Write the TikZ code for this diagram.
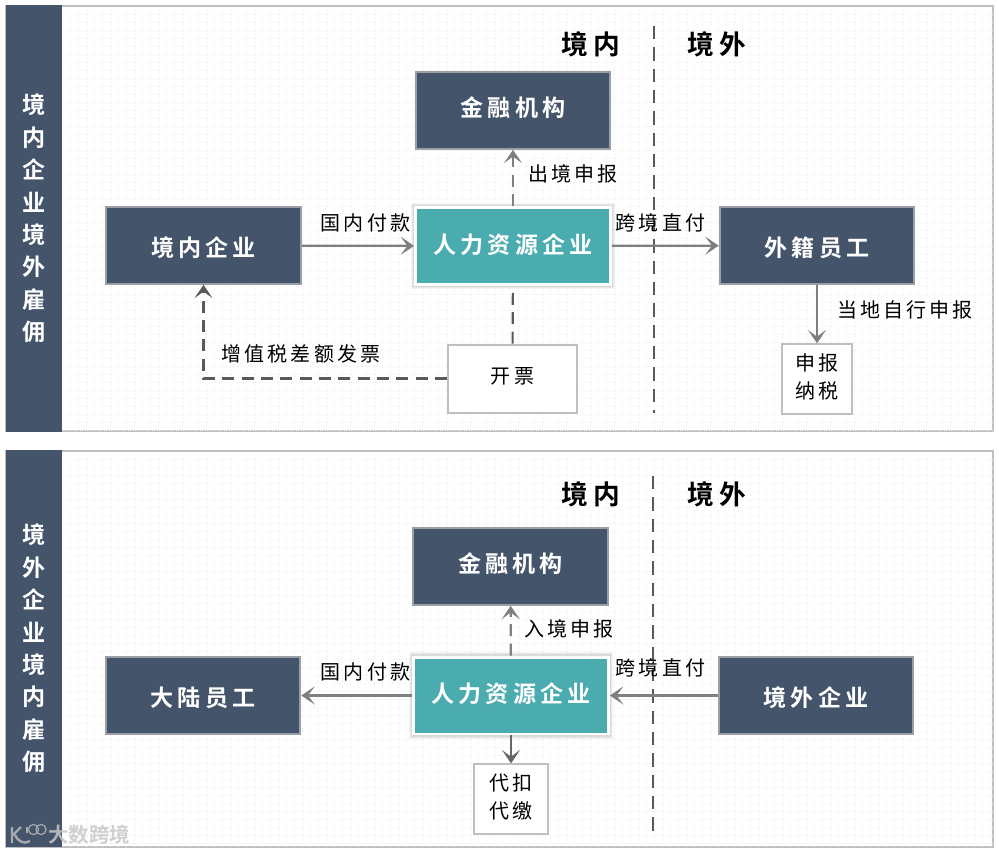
\documentclass[tikz,border=0pt]{standalone}
\usepackage{fontspec}
\usetikzlibrary{arrows.meta}
\setmainfont{Noto Sans CJK SC}[LetterSpace=16]
\newfontfamily\cjkbold{Noto Sans CJK SC Bold}[LetterSpace=18]
\newfontfamily\cjkplain{Noto Sans CJK SC Bold}
\definecolor{navy}{HTML}{44546A}
\definecolor{teal2}{HTML}{4BACB0}
\definecolor{edgegrey}{HTML}{BFBFBF}
\definecolor{linegrey}{HTML}{7F7F7F}
\definecolor{darkgrey}{HTML}{595959}
\tikzset{
  x=0.75pt,y=-0.75pt,
  darkbox/.style={draw=edgegrey!70!navy,line width=1.5pt,fill=navy,text=white,inner sep=0pt,minimum width=146pt,minimum height=57.5pt,font=\cjkbold\fontsize{17.3}{20}\selectfont},
  textup/.style={text height=13pt,text depth=4.2pt},
  textdown/.style={text height=16.2pt,text depth=0pt},
  tealbox/.style={draw=white,line width=2.2pt,fill=teal2,text=white,inner sep=0pt,minimum width=146.2pt,minimum height=57.7pt,font=\cjkbold\fontsize{17.3}{20}\selectfont,text height=13pt,text depth=2pt,
    preaction={draw=black,draw opacity=.04,line width=7pt},
    preaction={draw=black,draw opacity=.05,line width=5.6pt},
    preaction={draw=black,draw opacity=.06,line width=4.2pt}},
  whitebox/.style={draw=edgegrey,line width=1.5pt,fill=white,inner sep=0pt,font=\fontsize{15}{21}\selectfont,align=center},
  sidebar/.style={fill=navy,text=white,inner sep=0pt,minimum width=42pt,font=\cjkplain\fontsize{17.3}{24.3}\selectfont,align=center},
  panel/.style={draw=edgegrey,line width=1.2pt,fill=white},
  lbl/.style={inner sep=0pt,font=\fontsize{15}{18}\selectfont},
  head/.style={inner sep=0pt,font=\cjkbold\fontsize{20}{24}\selectfont},
  flow/.style={draw=linegrey,line width=1.7pt,-{Stealth[length=10pt,width=13.5pt,inset=5pt]}},
  flowdash/.style={flow,dash pattern=on 9pt off 5.5pt},
  dashplain/.style={draw=darkgrey,line width=1.6pt,dash pattern=on 9pt off 5.5pt},
  dashhead/.style={draw=darkgrey,line width=1.6pt,dash pattern=on 9pt off 5.5pt,-{Stealth[length=10pt,width=13.5pt,inset=5pt]}},
  divider/.style={draw=darkgrey,line width=1.4pt,dash pattern=on 10pt off 6pt},
  texture/.style={draw=black!6,line width=0.45pt,dash pattern=on 0.5pt off 1.3pt},
}
\begin{document}
\begin{tikzpicture}
\useasboundingbox (0,0) rectangle (999,853);
\fill[white] (0,0) rectangle (999,853);
% panels
\draw[panel] (6,6) rectangle (993,431);
\draw[panel] (6,451) rectangle (993,847);
% faint dotted texture
\foreach \yy in {14,22,...,430}{\draw[texture] (63,\yy) -- (992,\yy);}
\foreach \yy in {459,467,...,846}{\draw[texture] (63,\yy) -- (992,\yy);}
\foreach \xx in {70,78,...,990}{\draw[texture] (\xx,7) -- (\xx,430); \draw[texture] (\xx,452) -- (\xx,846);}
% side bars
\node[sidebar,minimum height=320.5pt] (barA) at (34,218.5) {境\\内\\企\\业\\境\\外\\雇\\佣};
\node[sidebar,minimum height=297.5pt] (barB) at (34,648.5) {境\\外\\企\\业\\境\\内\\雇\\佣};
% upper panel
\node[head] (inA) at (591,44) {境内};
\node[head] (outA) at (717,44) {境外};
\coordinate (divAt) at (654,26);
\coordinate (divAb) at (654,413);
\draw[divider] (divAt) -- (divAb);
\node[darkbox,textup] (bankA) at (513,110.5) {金融机构};
\node[tealbox] (hrA) at (513,246) {人力资源企业};
\node[darkbox,textdown] (firmA) at (203.5,245.5) {境内企业};
\node[darkbox,textdown] (staffA) at (817,245.5) {外籍员工};
\node[whitebox,minimum width=97pt,minimum height=51pt,text height=11pt,text depth=4pt] (invA) at (512.5,378.5) {开票};
\node[whitebox,minimum width=53pt,minimum height=52pt] (taxA) at (817,379) {申报\\纳税\\[-16.6pt]\mbox{}};
\draw[flow] (firmA) -- (hrA);
\draw[flow] (hrA) -- (staffA);
\draw[flowdash] (hrA) -- (bankA);
\draw[dashplain] (invA) -- (hrA);
\draw[dashhead] (invA.west) -| (firmA.south);
\draw[flow] (staffA.south) -- (taxA.north);
\node[lbl] (l1) at (365.5,223) {国内付款};
\node[lbl] (l2) at (660.5,223) {跨境直付};
\node[lbl] (l3) at (573,174) {出境申报};
\node[lbl] (l4) at (905,310) {当地自行申报};
\node[lbl] (l5) at (301,354) {增值税差额发票};
% lower panel
\node[head] (inB) at (591,494) {境内};
\node[head] (outB) at (717,494) {境外};
\coordinate (divBt) at (653,476);
\coordinate (divBb) at (653,834);
\draw[divider] (divBt) -- (divBb);
\node[darkbox,textup] (bankB) at (510.5,566.5) {金融机构};
\node[tealbox] (hrB) at (511,695.5) {人力资源企业};
\node[darkbox,textdown] (staffB) at (203,695.5) {大陆员工};
\node[darkbox,textdown] (firmB) at (816,695.5) {境外企业};
\node[whitebox,minimum width=55pt,minimum height=52pt] (wh) at (511,799) {代扣\\代缴\\[-16.6pt]\mbox{}};
\draw[flow] (hrB) -- (staffB);
\draw[flow] (firmB) -- (hrB);
\draw[flowdash] (hrB) -- (bankB);
\draw[flow,draw=black!60] (hrB) -- (wh);
\node[lbl] (l6) at (365.5,672) {国内付款};
\node[lbl] (l7) at (660.5,668) {跨境直付};
\node[lbl] (l8) at (569,629) {入境申报};
% watermark
\begin{scope}[opacity=.75,draw=black!22,line width=1.8pt]
\draw (12,827) -- (12,843) (13,835) -- (21,827) (15,835) .. controls (19,843) and (25,844) .. (30,841);
\draw[line width=0.9pt] (27,827) -- (27,833);
\draw[line width=0.9pt] (33.5,829.5) circle (3.8pt) (41,829.5) circle (3.8pt);
\end{scope}
\node[inner sep=0pt,text=black!22,opacity=.85,font=\cjkplain\fontsize{15.3}{18}\selectfont] (wm) at (89,835) {大数跨境};
\end{tikzpicture}
\end{document}
